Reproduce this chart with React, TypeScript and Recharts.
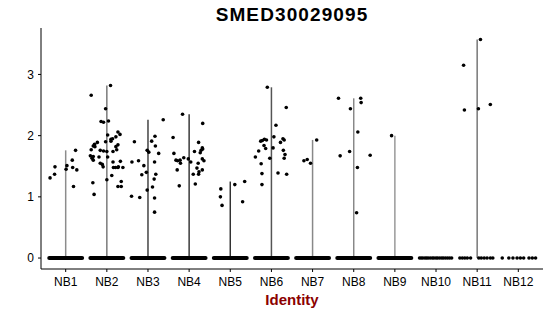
import React from "react";
import { ScatterChart, Scatter, XAxis, YAxis } from "recharts";

const categories = ["NB1", "NB2", "NB3", "NB4", "NB5", "NB6", "NB7", "NB8", "NB9", "NB10", "NB11", "NB12"];
const yTicks = [0, 1, 2, 3];

// non-zero cells per cluster: [jitter offset, expression]
const nb1 = [[-0.38, 1.31], [-0.27, 1.37], [-0.26, 1.49], [0.01, 1.45], [0.03, 1.51], [0.16, 1.6], [0.17, 1.48], [0.24, 1.76], [0.27, 1.44], [0.19, 1.17]];
const nb2 = [
  [-0.38, 2.66], [0.09, 2.82], [-0.03, 2.44], [-0.14, 2.23], [-0.08, 2.22], [0.04, 2.24], [0.02, 2.01], [0.1, 1.94],
  [0.14, 1.95], [0.27, 2.06], [0.32, 2.02], [0.22, 1.98], [-0.03, 1.9], [0.1, 1.91], [-0.23, 1.89], [-0.3, 1.86],
  [-0.33, 1.83], [-0.29, 1.82], [-0.38, 1.77], [-0.16, 1.76], [-0.08, 1.75], [0.0, 1.74], [0.15, 1.74], [0.22, 1.82],
  [0.27, 1.85], [0.24, 1.77], [-0.4, 1.67], [-0.33, 1.66], [-0.36, 1.63], [-0.33, 1.6], [-0.19, 1.65], [-0.16, 1.55],
  [-0.11, 1.53], [-0.09, 1.49], [0.02, 1.65], [0.15, 1.57], [0.16, 1.48], [0.21, 1.48], [0.27, 1.48], [0.33, 1.58],
  [0.39, 1.48], [0.28, 1.49], [-0.34, 1.23], [-0.31, 1.04], [0.0, 1.28], [0.12, 1.35], [0.27, 1.17], [0.35, 1.17],
  [0.35, 1.25],
];
const nb3 = [
  [0.37, 2.26], [-0.33, 1.9], [-0.39, 1.57], [-0.23, 1.59], [-0.1, 1.51], [-0.15, 1.36], [-0.04, 1.4], [-0.02, 1.76],
  [0.02, 1.73], [0.09, 1.91], [0.17, 1.99], [0.18, 1.83], [0.26, 1.71], [0.16, 1.57], [0.19, 1.37], [0.15, 1.29],
  [-0.02, 1.11], [0.11, 1.16], [-0.4, 1.01], [-0.2, 0.99], [0.16, 0.98], [0.16, 0.75],
];
const nb4 = [
  [-0.16, 2.35], [0.33, 2.2], [-0.39, 1.97], [0.23, 1.89], [-0.37, 1.71], [0.13, 1.74], [0.27, 1.72], [0.32, 1.8],
  [0.29, 1.76], [0.33, 1.78], [-0.32, 1.6], [-0.28, 1.59], [-0.22, 1.6], [-0.21, 1.55], [-0.13, 1.64], [-0.02, 1.62],
  [0.04, 1.57], [0.22, 1.55], [0.32, 1.62], [0.36, 1.59], [-0.29, 1.44], [0.19, 1.47], [0.1, 1.37], [0.23, 1.37],
  [0.32, 1.44], [0.24, 1.41], [-0.24, 1.18], [0.15, 1.21],
];
const nb5 = [[-0.23, 1.13], [-0.24, 1.0], [-0.2, 0.86], [0.11, 1.2], [0.35, 1.25], [0.3, 0.92]];
const nb6 = [
  [-0.1, 2.79], [0.36, 2.46], [0.11, 2.17], [-0.26, 1.91], [-0.22, 1.92], [-0.17, 1.94], [-0.12, 1.93], [0.06, 1.98],
  [0.28, 1.95], [0.31, 1.93], [0.22, 1.89], [-0.18, 1.84], [-0.14, 1.79], [-0.31, 1.75], [0.04, 1.8], [0.29, 1.76],
  [0.33, 1.69], [0.31, 1.63], [-0.39, 1.65], [-0.04, 1.63], [-0.25, 1.54], [-0.23, 1.38], [-0.23, 1.2], [0.16, 1.39],
  [0.37, 1.37],
];
const nb7 = [[0.1, 1.93], [-0.21, 1.59], [-0.13, 1.61], [-0.05, 1.55]];
const nb8 = [[-0.37, 2.61], [0.17, 2.61], [0.18, 2.54], [-0.08, 2.44], [0.1, 2.06], [-0.1, 1.74], [-0.33, 1.67], [0.4, 1.68], [0.09, 1.48], [0.07, 0.74]];
const nb9 = [[-0.08, 2.0]];
const nb10: number[][] = [];
const nb11 = [[0.08, 3.57], [-0.33, 3.15], [-0.31, 2.42], [0.03, 2.44], [0.32, 2.51]];
const nb12: number[][] = [];
const expressed = [nb1, nb2, nb3, nb4, nb5, nb6, nb7, nb8, nb9, nb10, nb11, nb12];

// zero-expression cells: dense clusters are a solid run of dots, sparse ones listed
const denseZeroSpan = [0.4, 0.4, 0.4, 0.4, 0.4, 0.4, 0.4, 0.4, 0.4, 0, 0, 0];
const sparseZeros = [
  [], [], [], [], [], [], [], [], [],
  [-0.4, -0.36, -0.32, -0.27, -0.23, -0.19, -0.14, -0.09, -0.05, 0.0, 0.04, 0.09, 0.14, 0.18, 0.23, 0.28, 0.33, 0.38],
  [-0.42, -0.36, -0.3, -0.24, -0.16, 0.04, 0.1, 0.17, 0.24, 0.32, 0.38],
  [-0.39, -0.23, -0.13, -0.03, 0.05, 0.13, 0.26, 0.34, 0.42],
];

const violinColors = ["#8c8c8c", "#7a7a7a", "#444", "#3a3a3a", "#333", "#555", "#888", "#888", "#999", "#999", "#777", "#999"];
const font = "'Liberation Sans', Arial, Helvetica, sans-serif";

const points = expressed.flatMap((grp, i) => grp.map(([dx, v]) => ({ x: i + 1 + dx, y: v })));
const zeroDots = sparseZeros.flatMap((grp, i) => grp.map((dx) => ({ x: i + 1 + dx, y: 0 })));

const Dot = (p: any) => <circle cx={p.cx} cy={p.cy} r={1.8} fill="#000" />;
const NoDot = () => <g />;

export default function App() {
  return (
    <div style={{ position: "absolute", left: 0, top: 0, width: 550, height: 316, background: "#fff" }}>
      <svg width={550} height={316} style={{ position: "absolute", left: 0, top: 0, pointerEvents: "none" }}>
        <text x={292} y={21} textAnchor="middle" fontFamily={font} fontWeight="bold" fontSize={19} letterSpacing={1.1} fill="#000">
          SMED30029095
        </text>
      </svg>
      <ScatterChart width={550} height={316} margin={{ top: 28, right: 7, bottom: 0, left: 0 }}>
        <XAxis
          type="number"
          dataKey="x"
          domain={[0.4, 12.6]}
          ticks={categories.map((_, i) => i + 1)}
          tickFormatter={(v: number) => categories[v - 1]}
          allowDataOverflow
          height={47}
          tickSize={3}
          tickMargin={5}
          tick={{ fontSize: 12, fill: "#000", fontFamily: font }}
          axisLine={{ stroke: "#000", strokeWidth: 1 }}
          tickLine={{ stroke: "#000" }}
          label={{ value: "Identity", position: "insideBottom", offset: 11, fill: "#8B0000", fontSize: 15, fontWeight: "bold", fontFamily: font }}
        />
        <YAxis
          type="number"
          dataKey="y"
          domain={[-0.179, 3.759]}
          ticks={yTicks}
          allowDataOverflow
          width={41}
          tickSize={3}
          tickMargin={4}
          tick={{ fontSize: 12, fill: "#000", fontFamily: font }}
          axisLine={{ stroke: "#000", strokeWidth: 1 }}
          tickLine={{ stroke: "#000" }}
        />
        {expressed.map((grp, i) =>
          grp.length ? (
            <Scatter
              key={"v" + i}
              data={[{ x: i + 1, y: 0 }, { x: i + 1, y: Math.max(...grp.map((d) => d[1])) }]}
              line={{ stroke: violinColors[i], strokeWidth: 1.5 }}
              shape={NoDot}
              isAnimationActive={false}
            />
          ) : null
        )}
        {denseZeroSpan.map((s, i) =>
          s ? (
            <Scatter
              key={"z" + i}
              data={[{ x: i + 1 - s, y: 0 }, { x: i + 1 + s, y: 0 }]}
              line={{ stroke: "#000", strokeWidth: 4, strokeLinecap: "round" }}
              shape={NoDot}
              isAnimationActive={false}
            />
          ) : null
        )}
        <Scatter data={zeroDots} shape={Dot} isAnimationActive={false} />
        <Scatter data={points} shape={Dot} isAnimationActive={false} />
      </ScatterChart>
    </div>
  );
}
